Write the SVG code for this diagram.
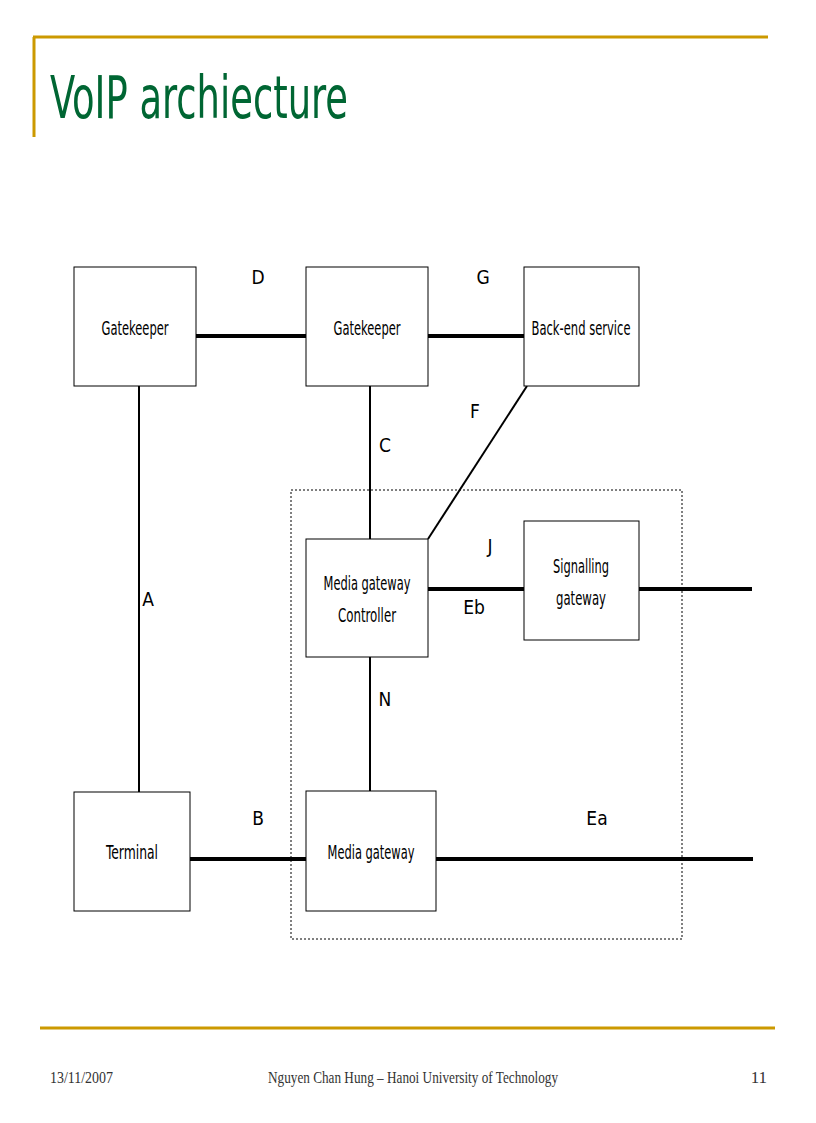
<svg xmlns="http://www.w3.org/2000/svg" width="816" height="1123" viewBox="0 0 816 1123">
<style>
.box{fill:#fff;stroke:#000;stroke-width:1}
.t{font-family:"DejaVu Sans Condensed","DejaVu Sans",sans-serif;font-size:19px;fill:#000;text-anchor:middle}
.l{font-family:"DejaVu Sans Condensed","DejaVu Sans",sans-serif;font-size:19px;fill:#000;text-anchor:middle}
.thin{stroke:#000;stroke-width:2;fill:none}
.thick{stroke:#000;stroke-width:4;fill:none}
.f{font-family:"Liberation Serif",serif;font-size:17px;fill:#333}
</style>
<rect width="816" height="1123" fill="#fff"/>
<path d="M33 37H768M34 37V137" stroke="#CC9900" stroke-width="3" fill="none"/>
<text x="50" y="118" font-family="DejaVu Sans Condensed,DejaVu Sans,sans-serif" font-size="58" fill="#006633" textLength="298" lengthAdjust="spacingAndGlyphs">VoIP archiecture</text>
<rect x="291" y="490" width="391" height="449" fill="none" stroke="#000" stroke-dasharray="2,2"/>
<g id="connectors">
<line class="thick" x1="196" y1="336" x2="306" y2="336"/>
<line class="thick" x1="428" y1="336" x2="524" y2="336"/>
<line class="thin" x1="370" y1="386" x2="370" y2="539"/>
<line class="thin" x1="428" y1="539" x2="527" y2="386"/>
<line class="thick" x1="428" y1="589" x2="524" y2="589"/>
<line class="thick" x1="639" y1="589" x2="752" y2="589"/>
<line class="thin" x1="370" y1="657" x2="370" y2="791"/>
<line class="thin" x1="139" y1="386" x2="139" y2="792"/>
<line class="thick" x1="190" y1="859" x2="306" y2="859"/>
<line class="thick" x1="436" y1="859" x2="753" y2="859"/>
<text class="l" x="258" y="284">D</text>
<text class="l" x="483" y="284">G</text>
<text class="l" x="475" y="418">F</text>
<text class="l" x="385" y="452">C</text>
<text class="l" x="490" y="553">J</text>
<text class="l" x="474" y="614">Eb</text>
<text class="l" x="148" y="606">A</text>
<text class="l" x="385" y="706">N</text>
<text class="l" x="258" y="825">B</text>
<text class="l" x="597" y="825">Ea</text>
</g>
<g id="gk1"><rect class="box" x="74" y="267" width="122" height="119"/><text class="t" x="135" y="335" textLength="67" lengthAdjust="spacingAndGlyphs">Gatekeeper</text></g>
<g id="gk2"><rect class="box" x="306" y="267" width="122" height="119"/><text class="t" x="367" y="335" textLength="67" lengthAdjust="spacingAndGlyphs">Gatekeeper</text></g>
<g id="backend"><rect class="box" x="524" y="267" width="115" height="119"/><text class="t" x="581" y="335" textLength="99" lengthAdjust="spacingAndGlyphs">Back-end service</text></g>
<g id="mgc"><rect class="box" x="306" y="539" width="122" height="118"/><text class="t" x="367" y="590" textLength="87" lengthAdjust="spacingAndGlyphs">Media gateway</text><text class="t" x="367" y="622" textLength="58" lengthAdjust="spacingAndGlyphs">Controller</text></g>
<g id="sg"><rect class="box" x="524" y="521" width="115" height="119"/><text class="t" x="581" y="573" textLength="56" lengthAdjust="spacingAndGlyphs">Signalling</text><text class="t" x="581" y="605" textLength="50" lengthAdjust="spacingAndGlyphs">gateway</text></g>
<g id="terminal"><rect class="box" x="74" y="792" width="116" height="119"/><text class="t" x="132" y="859" textLength="52" lengthAdjust="spacingAndGlyphs">Terminal</text></g>
<g id="mg"><rect class="box" x="306" y="791" width="130" height="120"/><text class="t" x="371" y="859" textLength="87" lengthAdjust="spacingAndGlyphs">Media gateway</text></g>
<path d="M40 1028H775" stroke="#CC9900" stroke-width="3"/>
<text class="f" x="50" y="1083" textLength="63" lengthAdjust="spacingAndGlyphs">13/11/2007</text>
<text class="f" x="268" y="1083" textLength="290" lengthAdjust="spacingAndGlyphs">Nguyen Chan Hung – Hanoi University of Technology</text>
<text class="f" x="767" y="1083" text-anchor="end">11</text>
</svg>
